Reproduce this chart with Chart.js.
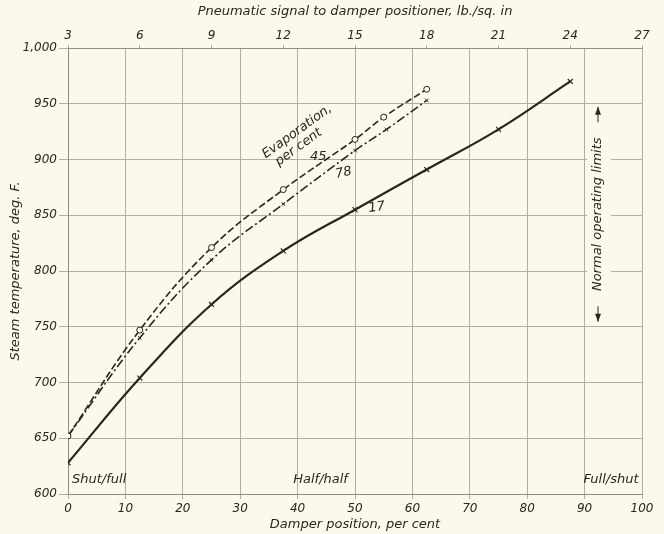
<!DOCTYPE html>
<html>
<head>
<meta charset="utf-8">
<script src="https://cdn.jsdelivr.net/npm/chart.js@4.4.1/dist/chart.umd.min.js"></script>
<style>
  html,body{margin:0;padding:0;background:#fbfaea;}
  canvas{display:block;}
</style>
</head>
<body>
<canvas id="c" width="664" height="534"></canvas>
<script>
// ---- data ----
const damperTicks = [0, 10, 20, 30, 40, 50, 60, 70, 80, 90, 100];
const pressureTicks = ['3', '6', '9', '12', '15', '18', '21', '24', '27'];
const tempTicks = ['600', '650', '700', '750', '800', '850', '900', '950', '1,000'];

const damper17 = [0, 12.5, 25, 37.5, 50, 62.5, 75, 87.5];
const temp17   = [628, 704, 770, 818, 855, 891, 927, 970];

const damper45 = [0, 12.5, 25, 37.5, 50, 55, 62.5];
const temp45   = [652, 747, 821, 873, 918, 938, 963];

const damper78 = [0, 12.5, 25, 37.5, 50, 55.5, 62.5];
const temp78   = [652, 740, 810, 860, 908, 927, 953];

const bg = '#fbfaea';
const ink = '#262622';
const gridCol = '#b0af9f';
const FONT = "'DejaVu Sans', sans-serif";

function pts(xs, ys){ return xs.map((x,i)=>({x:x, y:ys[i]})); }

const bgPlugin = {
  id:'bg',
  beforeDraw(chart){
    const c = chart.ctx; c.save(); c.fillStyle = bg; c.fillRect(0,0,chart.width,chart.height); c.restore();
  }
};

const notes = {
  id:'notes',
  afterDatasetsDraw(chart){
    const c = chart.ctx, xs = chart.scales.x, ys = chart.scales.y;
    const X = v => xs.getPixelForValue(v), Y = v => ys.getPixelForValue(v);
    c.save();
    c.fillStyle = ink;
    c.textAlign = 'center'; c.textBaseline = 'middle';
    function txt(t, x, y, rot, size){
      c.save(); c.translate(x, y); c.rotate(rot*Math.PI/180);
      c.font = 'italic ' + (size||13) + 'px ' + FONT;
      c.fillText(t, 0, 0); c.restore();
    }
    txt('Evaporation,', X(39.9), Y(925), -36, 13);
    txt('per cent', X(40.2), Y(911), -36, 13);
    txt('45', X(43.6), Y(903), 0, 13);
    txt('78', X(48), Y(888), -12, 13);
    txt('17', X(53.8), Y(857), -8, 13);

    // normal operating limits marker
    const ax = 598;
    const top = Y(950) + 3, bot = Y(750) - 5;
    c.fillStyle = bg;
    c.fillRect(587, top - 2, 24, bot - top + 4);
    c.fillStyle = ink; c.strokeStyle = ink; c.lineWidth = 1;
    const mid = (top + bot)/2;
    c.beginPath(); c.moveTo(ax, top); c.lineTo(ax, mid - 92); c.moveTo(ax, mid + 92); c.lineTo(ax, bot); c.stroke();
    c.beginPath(); c.moveTo(ax, top); c.lineTo(ax-3, top+8); c.lineTo(ax+3, top+8); c.closePath(); c.fill();
    c.beginPath(); c.moveTo(ax, bot); c.lineTo(ax-3, bot-8); c.lineTo(ax+3, bot-8); c.closePath(); c.fill();
    txt('Normal operating limits', ax, mid, -90, 13);

    c.font = 'italic 13px ' + FONT;
    c.textBaseline = 'middle';
    c.textAlign = 'left'; c.fillText('Shut/full', X(0.7), 480);
    c.textAlign = 'center'; c.fillText('Half/half', X(44), 480);
    c.textAlign = 'right'; c.fillText('Full/shut', X(99.4), 480);
    c.restore();
  }
};

const tickFont = {family: FONT, size: 12, style: 'italic'};
const titleFont = {family: FONT, size: 13, style: 'italic'};

new Chart(document.getElementById('c'), {
  type: 'line',
  data: {
    datasets: [
      { label:'17', data: pts(damper17, temp17), borderColor: ink, borderWidth: 2.2,
        pointStyle:'crossRot', pointRadius: 3.5, pointBorderColor: ink, pointBorderWidth: 1.2,
        tension: 0.4, fill:false },
      { label:'45', data: pts(damper45, temp45), borderColor: ink, borderWidth: 1.6, borderDash:[7,3],
        pointStyle:'circle', pointRadius: 3, pointBackgroundColor: bg, pointBorderColor: ink, pointBorderWidth: 1,
        tension: 0.4, fill:false },
      { label:'78', data: pts(damper78, temp78), borderColor: ink, borderWidth: 1.6, borderDash:[9,3,2,3],
        pointStyle:'crossRot', pointRadius: 2.5, pointBorderColor: ink, pointBorderWidth: 1,
        tension: 0.4, fill:false }
    ]
  },
  options: {
    responsive: false, animation: false,
    layout: { padding: { left: 0, right: 22, top: 0, bottom: 0 } },
    plugins: { legend: {display:false}, tooltip: {enabled:false} },
    scales: {
      x: {
        type:'linear', position:'bottom', min:0, max:100,
        afterBuildTicks(s){ s.ticks = damperTicks.map(v=>({value:v})); },
        ticks:{ font: tickFont, color: ink, padding: 3, autoSkip:false, maxRotation:0,
                callback: v => String(v) },
        grid:{ color: gridCol, lineWidth: 1, tickLength: 5, tickColor: gridCol },
        border:{ color: '#8f8e80', width: 1 },
        title:{ display:true, text:'Damper position, per cent', font: titleFont, color: ink, padding:{top:0,bottom:2} },
        afterFit(s){ s.height = 40; }
      },
      x2: {
        type:'linear', position:'top', min:0, max:100,
        afterBuildTicks(s){ s.ticks = pressureTicks.map((t,i)=>({value:i*12.5})); },
        ticks:{ font: tickFont, color: ink, padding: 2, autoSkip:false, maxRotation:0,
                callback: (v, i) => pressureTicks[i] },
        grid:{ drawOnChartArea:false, tickLength: 3, color: gridCol },
        border:{ color: '#8f8e80', width: 1 },
        title:{ display:true, text:'Pneumatic signal to damper positioner, lb./sq. in', font: titleFont, color: ink, padding:{top:4,bottom:0} },
        afterFit(s){ s.height = 48; }
      },
      y: {
        type:'linear', position:'left', min:600, max:1000,
        afterBuildTicks(s){ s.ticks = tempTicks.map((t,i)=>({value:600+i*50})); },
        ticks:{ font: tickFont, color: ink, padding: 2, autoSkip:false,
                callback: (v, i) => tempTicks[i] },
        grid:{ color: gridCol, lineWidth: 1, tickLength: 9, tickColor: gridCol },
        border:{ color: '#8f8e80', width: 1 },
        title:{ display:true, text:'Steam temperature, deg. F.', font: titleFont, color: ink, padding:{top:8,bottom:0} },
        afterFit(s){ s.width = 68; }
      }
    }
  },
  plugins: [bgPlugin, notes]
});
</script>
</body>
</html>
